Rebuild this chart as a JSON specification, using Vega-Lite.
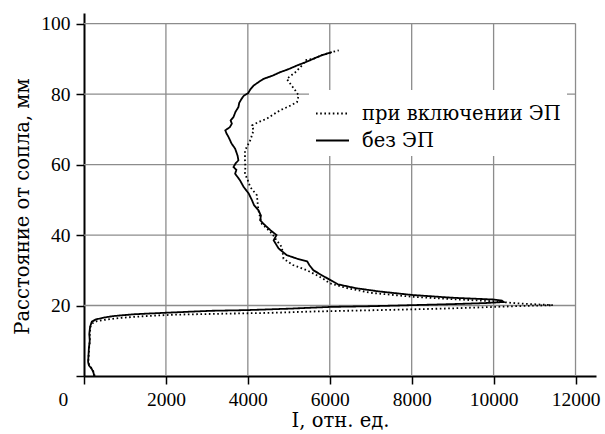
{
  "$schema": "https://vega.github.io/schema/vega-lite/v6.json",
  "width": 512,
  "height": 363,
  "autosize": "none",
  "padding": {"left": 84, "top": 13, "right": 9, "bottom": 58},
  "background": "white",
  "config": {
    "view": {"stroke": null},
    "font": "Liberation Serif",
    "axis": {
      "domainColor": "black", "domainWidth": 2,
      "tickColor": "black", "tickWidth": 1.5, "tickSize": 8,
      "labelFont": "Liberation Serif", "labelFontSize": 19.5, "labelColor": "black",
      "titleFont": "DejaVu Serif", "titleFontSize": 19.5, "titleFontWeight": "normal", "titleColor": "black",
      "grid": false
    },
    "legend": {
      "orient": "none", "legendX": 225, "legendY": 77,
      "fillColor": "white", "padding": 6,
      "symbolType": "stroke", "symbolStrokeColor": "black", "symbolStrokeWidth": 2, "symbolSize": 1089,
      "labelFont": "DejaVu Serif", "labelFontSize": 19.5, "labelColor": "black", "labelOffset": 12,
      "labelLimit": 400, "rowPadding": 0, "title": null
    }
  },
  "encoding": {
    "x": {"field": "I", "type": "quantitative",
      "scale": {"domain": [0, 12500], "nice": false, "zero": false},
      "axis": {"values": [0, 2000, 4000, 6000, 8000, 10000, 12000], "format": "d", "labelPadding": 6,
        "labelOffset": {"condition": {"test": "datum.value == 0", "value": -26}, "value": 0},
        "title": "I, отн. ед.", "titlePadding": 3}},
    "y": {"field": "d", "type": "quantitative",
      "scale": {"domain": [0, 103], "nice": false, "zero": false},
      "axis": {"values": [0, 20, 40, 60, 80, 100], "labelPadding": 6,
        "labelExpr": "datum.value == 0 ? '' : datum.label",
        "title": "Расстояние от сопла, мм", "titlePadding": 8, "titleY": 193}}
  },
  "layer": [
    {
      "data": {"values": [
        {"I": 2000, "d": 0, "d2": 100}, {"I": 4000, "d": 0, "d2": 100}, {"I": 6000, "d": 0, "d2": 100},
        {"I": 8000, "d": 0, "d2": 100}, {"I": 10000, "d": 0, "d2": 100}, {"I": 12000, "d": 0, "d2": 100}]},
      "mark": {"type": "rule", "color": "#8c8c8c", "strokeWidth": 1.3},
      "encoding": {"y2": {"field": "d2"}}
    },
    {
      "data": {"values": [
        {"d": 20, "I": 0, "I2": 12000}, {"d": 40, "I": 0, "I2": 12000}, {"d": 60, "I": 0, "I2": 12000},
        {"d": 80, "I": 0, "I2": 12000}, {"d": 100, "I": 0, "I2": 12000}]},
      "mark": {"type": "rule", "color": "#8c8c8c", "strokeWidth": 1.3},
      "encoding": {"x2": {"field": "I2"}}
    },
    {
      "data": {"values": [
        {"s": "без ЭП", "d": 0, "I": 250}, {"s": "без ЭП", "d": 1, "I": 230}, {"s": "без ЭП", "d": 2, "I": 190},
        {"s": "без ЭП", "d": 3, "I": 120}, {"s": "без ЭП", "d": 4, "I": 100}, {"s": "без ЭП", "d": 6, "I": 110},
        {"s": "без ЭП", "d": 8, "I": 120}, {"s": "без ЭП", "d": 10, "I": 140}, {"s": "без ЭП", "d": 12, "I": 130},
        {"s": "без ЭП", "d": 14, "I": 150}, {"s": "без ЭП", "d": 15.4, "I": 190}, {"s": "без ЭП", "d": 16.0, "I": 280},
        {"s": "без ЭП", "d": 16.5, "I": 450}, {"s": "без ЭП", "d": 17.0, "I": 710}, {"s": "без ЭП", "d": 17.5, "I": 1200},
        {"s": "без ЭП", "d": 17.9, "I": 1900}, {"s": "без ЭП", "d": 18.2, "I": 2500}, {"s": "без ЭП", "d": 18.5, "I": 3100},
        {"s": "без ЭП", "d": 18.7, "I": 4000}, {"s": "без ЭП", "d": 19.1, "I": 5000}, {"s": "без ЭП", "d": 19.6, "I": 6000},
        {"s": "без ЭП", "d": 19.8, "I": 7000}, {"s": "без ЭП", "d": 20.1, "I": 8000}, {"s": "без ЭП", "d": 20.4, "I": 9000},
        {"s": "без ЭП", "d": 20.7, "I": 9800}, {"s": "без ЭП", "d": 21.0, "I": 10250}, {"s": "без ЭП", "d": 21.4, "I": 10200},
        {"s": "без ЭП", "d": 21.7, "I": 10000}, {"s": "без ЭП", "d": 22.2, "I": 9000}, {"s": "без ЭП", "d": 23.0, "I": 8000},
        {"s": "без ЭП", "d": 24.0, "I": 7200}, {"s": "без ЭП", "d": 24.9, "I": 6650}, {"s": "без ЭП", "d": 26.0, "I": 6200},
        {"s": "без ЭП", "d": 27.0, "I": 6050}, {"s": "без ЭП", "d": 28.3, "I": 5850}, {"s": "без ЭП", "d": 30.0, "I": 5600},
        {"s": "без ЭП", "d": 31.5, "I": 5500}, {"s": "без ЭП", "d": 32.5, "I": 5450}, {"s": "без ЭП", "d": 33.3, "I": 5200},
        {"s": "без ЭП", "d": 34.3, "I": 4950}, {"s": "без ЭП", "d": 36.2, "I": 4750}, {"s": "без ЭП", "d": 38.5, "I": 4630},
        {"s": "без ЭП", "d": 40.0, "I": 4700}, {"s": "без ЭП", "d": 41.4, "I": 4550}, {"s": "без ЭП", "d": 43.0, "I": 4400},
        {"s": "без ЭП", "d": 44.2, "I": 4300}, {"s": "без ЭП", "d": 45.5, "I": 4320}, {"s": "без ЭП", "d": 47.0, "I": 4260},
        {"s": "без ЭП", "d": 48.5, "I": 4150}, {"s": "без ЭП", "d": 49.9, "I": 4100}, {"s": "без ЭП", "d": 51.8, "I": 4020},
        {"s": "без ЭП", "d": 53.6, "I": 3900}, {"s": "без ЭП", "d": 55.5, "I": 3810}, {"s": "без ЭП", "d": 57.4, "I": 3690},
        {"s": "без ЭП", "d": 58.5, "I": 3720}, {"s": "без ЭП", "d": 59.3, "I": 3650}, {"s": "без ЭП", "d": 60.3, "I": 3700},
        {"s": "без ЭП", "d": 61.2, "I": 3770}, {"s": "без ЭП", "d": 62.5, "I": 3750}, {"s": "без ЭП", "d": 64.5, "I": 3690},
        {"s": "без ЭП", "d": 66.0, "I": 3600}, {"s": "без ЭП", "d": 67.8, "I": 3530}, {"s": "без ЭП", "d": 68.8, "I": 3480},
        {"s": "без ЭП", "d": 69.7, "I": 3450}, {"s": "без ЭП", "d": 70.6, "I": 3560}, {"s": "без ЭП", "d": 71.6, "I": 3610},
        {"s": "без ЭП", "d": 72.5, "I": 3580}, {"s": "без ЭП", "d": 73.5, "I": 3650}, {"s": "без ЭП", "d": 75.0, "I": 3700},
        {"s": "без ЭП", "d": 76.3, "I": 3770}, {"s": "без ЭП", "d": 77.5, "I": 3790}, {"s": "без ЭП", "d": 78.7, "I": 3850},
        {"s": "без ЭП", "d": 79.5, "I": 3900}, {"s": "без ЭП", "d": 80.3, "I": 4010}, {"s": "без ЭП", "d": 81.3, "I": 4060},
        {"s": "без ЭП", "d": 82.4, "I": 4140}, {"s": "без ЭП", "d": 83.3, "I": 4250}, {"s": "без ЭП", "d": 84.3, "I": 4380},
        {"s": "без ЭП", "d": 85.2, "I": 4600}, {"s": "без ЭП", "d": 86.2, "I": 4790}, {"s": "без ЭП", "d": 87.1, "I": 5000},
        {"s": "без ЭП", "d": 88.1, "I": 5200}, {"s": "без ЭП", "d": 89.0, "I": 5400}, {"s": "без ЭП", "d": 90.0, "I": 5600},
        {"s": "без ЭП", "d": 91.0, "I": 5800}, {"s": "без ЭП", "d": 91.9, "I": 6050},

        {"s": "при включении ЭП", "d": 0, "I": 260}, {"s": "при включении ЭП", "d": 1, "I": 240}, {"s": "при включении ЭП", "d": 2, "I": 200},
        {"s": "при включении ЭП", "d": 3, "I": 130}, {"s": "при включении ЭП", "d": 4, "I": 105}, {"s": "при включении ЭП", "d": 6, "I": 115},
        {"s": "при включении ЭП", "d": 8, "I": 125}, {"s": "при включении ЭП", "d": 10, "I": 145}, {"s": "при включении ЭП", "d": 12, "I": 140},
        {"s": "при включении ЭП", "d": 14, "I": 160}, {"s": "при включении ЭП", "d": 15.0, "I": 210}, {"s": "при включении ЭП", "d": 15.6, "I": 320},
        {"s": "при включении ЭП", "d": 16.0, "I": 550}, {"s": "при включении ЭП", "d": 16.5, "I": 900}, {"s": "при включении ЭП", "d": 17.0, "I": 1500},
        {"s": "при включении ЭП", "d": 17.4, "I": 2200}, {"s": "при включении ЭП", "d": 17.7, "I": 3500}, {"s": "при включении ЭП", "d": 17.9, "I": 4500},
        {"s": "при включении ЭП", "d": 18.3, "I": 5600}, {"s": "при включении ЭП", "d": 18.6, "I": 6800}, {"s": "при включении ЭП", "d": 18.9, "I": 8000},
        {"s": "при включении ЭП", "d": 19.2, "I": 9000}, {"s": "при включении ЭП", "d": 19.6, "I": 10000}, {"s": "при включении ЭП", "d": 19.9, "I": 10800},
        {"s": "при включении ЭП", "d": 20.1, "I": 11450}, {"s": "при включении ЭП", "d": 20.3, "I": 11100}, {"s": "при включении ЭП", "d": 20.6, "I": 10600},
        {"s": "при включении ЭП", "d": 21.2, "I": 10000}, {"s": "при включении ЭП", "d": 21.8, "I": 9000}, {"s": "при включении ЭП", "d": 22.5, "I": 8000},
        {"s": "при включении ЭП", "d": 23.6, "I": 7000}, {"s": "при включении ЭП", "d": 25.0, "I": 6400}, {"s": "при включении ЭП", "d": 26.3, "I": 6000},
        {"s": "при включении ЭП", "d": 27.5, "I": 5850}, {"s": "при включении ЭП", "d": 28.5, "I": 5700}, {"s": "при включении ЭП", "d": 30.0, "I": 5440},
        {"s": "при включении ЭП", "d": 31.5, "I": 5100}, {"s": "при включении ЭП", "d": 33.3, "I": 4870}, {"s": "при включении ЭП", "d": 35.0, "I": 4850},
        {"s": "при включении ЭП", "d": 36.6, "I": 4830}, {"s": "при включении ЭП", "d": 38.5, "I": 4700}, {"s": "при включении ЭП", "d": 40.4, "I": 4590},
        {"s": "при включении ЭП", "d": 42.0, "I": 4450}, {"s": "при включении ЭП", "d": 43.2, "I": 4340}, {"s": "при включении ЭП", "d": 45.0, "I": 4300},
        {"s": "при включении ЭП", "d": 47.0, "I": 4260}, {"s": "при включении ЭП", "d": 49.0, "I": 4240}, {"s": "при включении ЭП", "d": 51.3, "I": 4220},
        {"s": "при включении ЭП", "d": 53.6, "I": 4060}, {"s": "при включении ЭП", "d": 55.5, "I": 4000}, {"s": "при включении ЭП", "d": 57.4, "I": 3930},
        {"s": "при включении ЭП", "d": 59.3, "I": 3940}, {"s": "при включении ЭП", "d": 61.2, "I": 3930}, {"s": "при включении ЭП", "d": 64.0, "I": 3930},
        {"s": "при включении ЭП", "d": 66.9, "I": 4060}, {"s": "при включении ЭП", "d": 69.7, "I": 4140}, {"s": "при включении ЭП", "d": 71.1, "I": 4100},
        {"s": "при включении ЭП", "d": 72.0, "I": 4250}, {"s": "при включении ЭП", "d": 73.0, "I": 4460}, {"s": "при включении ЭП", "d": 74.2, "I": 4620},
        {"s": "при включении ЭП", "d": 75.4, "I": 4790}, {"s": "при включении ЭП", "d": 76.5, "I": 5000}, {"s": "при включении ЭП", "d": 77.7, "I": 5200},
        {"s": "при включении ЭП", "d": 79.6, "I": 5240}, {"s": "при включении ЭП", "d": 81.0, "I": 5160}, {"s": "при включении ЭП", "d": 82.7, "I": 5050},
        {"s": "при включении ЭП", "d": 84.3, "I": 4950}, {"s": "при включении ЭП", "d": 85.2, "I": 5050}, {"s": "при включении ЭП", "d": 86.2, "I": 5160},
        {"s": "при включении ЭП", "d": 87.4, "I": 5260}, {"s": "при включении ЭП", "d": 88.6, "I": 5360}, {"s": "при включении ЭП", "d": 89.6, "I": 5400},
        {"s": "при включении ЭП", "d": 90.0, "I": 5600}, {"s": "при включении ЭП", "d": 91.0, "I": 5800}, {"s": "при включении ЭП", "d": 91.9, "I": 6050},
        {"s": "при включении ЭП", "d": 92.4, "I": 6220}
      ]},
      "mark": {"type": "line", "color": "black", "strokeWidth": 1.8},
      "encoding": {
        "order": {"field": "d", "type": "quantitative"},
        "strokeDash": {"field": "s", "type": "nominal",
          "scale": {"domain": ["при включении ЭП", "без ЭП"], "range": [[1.6, 2.6], [1, 0]]}}
      }
    }
  ]
}
